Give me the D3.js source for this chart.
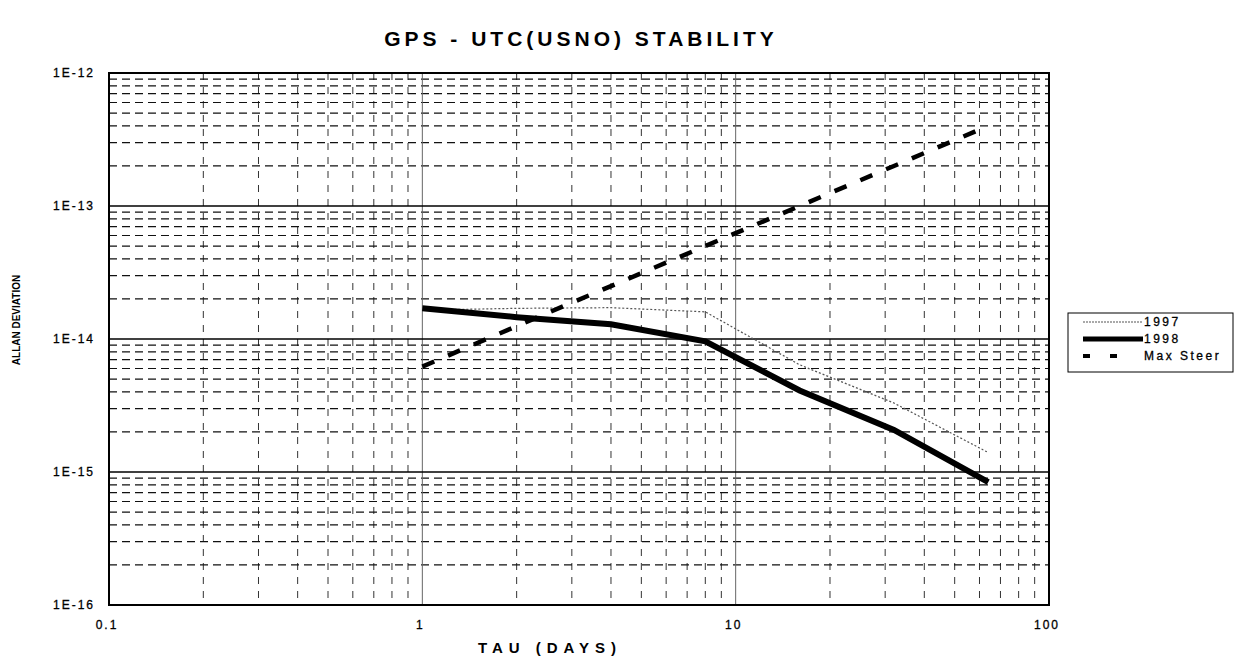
<!DOCTYPE html>
<html>
<head>
<meta charset="utf-8">
<title>GPS - UTC(USNO) Stability</title>
<script src="https://cdn.jsdelivr.net/npm/d3@7"></script>
<style>
    body { margin: 0; background: #fff; }
    text { font-family: "Liberation Sans", Arial, sans-serif; fill: #000; }
</style>
</head>
<body>
<div id="chart"></div>
<script>
// tau values (days) and allan deviation
let tauDays = [1, 2, 4, 8, 16, 32, 64];
let adev1997 = [1.65e-14, 1.7e-14, 1.72e-14, 1.6e-14, 6.4e-15, 3.3e-15, 1.4e-15];
let adev1998 = [1.7e-14, 1.46e-14, 1.29e-14, 9.6e-15, 4.1e-15, 2.07e-15, 8.4e-16];
let adevMaxSteer = [6.2e-15, 1.25e-14, 2.5e-14, 5e-14, 1e-13, 2e-13, 4e-13];

let xTicks = [0.1, 1, 10, 100];
let xTickLabels = ["0.1", "1", "10", "100"];
let yTicks = [1e-16, 1e-15, 1e-14, 1e-13, 1e-12];
let yTickLabels = ["1E-16", "1E-15", "1E-14", "1E-13", "1E-12"];

let seriesNames = ["1997", "1998", "Max Steer"];

class StabilityVis {

    constructor(parentElement) {
        this.parentElement = parentElement;
        this.initVis();
    }

    initVis() {
        let vis = this;

        vis.width = 1235;
        vis.height = 667;
        vis.plot = {left: 109, right: 1049, top: 73, bottom: 605};

        vis.svg = d3.select("#" + vis.parentElement)
            .append("svg")
            .attr("width", vis.width)
            .attr("height", vis.height);

        vis.x = d3.scaleLog().domain([0.1, 100]).range([vis.plot.left, vis.plot.right]);
        vis.y = d3.scaleLog().domain([1e-16, 1e-12]).range([vis.plot.bottom, vis.plot.top]);

        // title
        vis.svg.append("text")
            .attr("x", 581).attr("y", 46)
            .attr("text-anchor", "middle")
            .style("font-size", "21px")
            .style("font-weight", "bold")
            .style("letter-spacing", "4px")
            .text("GPS - UTC(USNO) STABILITY");

        vis.drawGrid();
        vis.drawAxes();
        vis.drawLines();
        vis.drawLegend();
    }

    drawGrid() {
        let vis = this;
        let g = vis.svg.append("g").attr("class", "grid");

        // minor ticks 2..9 in every decade
        let xMinor = vis.x.ticks().filter(d => !xTicks.includes(d));
        let yMinor = vis.y.ticks().filter(d => !yTicks.some(t => Math.abs(t - d) / t < 1e-6));

        g.selectAll(".vminor")
            .data(xMinor).enter()
            .append("line")
            .attr("x1", d => vis.x(d)).attr("x2", d => vis.x(d))
            .attr("y1", vis.plot.top).attr("y2", vis.plot.bottom)
            .attr("stroke", "#333")
            .attr("stroke-width", 1)
            .attr("stroke-dasharray", "7,7");

        g.selectAll(".hminor")
            .data(yMinor).enter()
            .append("line")
            .attr("x1", vis.plot.left).attr("x2", vis.plot.right)
            .attr("y1", d => vis.y(d)).attr("y2", d => vis.y(d))
            .attr("stroke", "#111")
            .attr("stroke-width", 1.2)
            .attr("stroke-dasharray", "8,5");

        // decade lines
        g.selectAll(".vmajor")
            .data(xTicks.slice(1, -1)).enter()
            .append("line")
            .attr("x1", d => vis.x(d)).attr("x2", d => vis.x(d))
            .attr("y1", vis.plot.top).attr("y2", vis.plot.bottom)
            .attr("stroke", "#666")
            .attr("stroke-width", 1);

        g.selectAll(".hmajor")
            .data(yTicks.slice(1, -1)).enter()
            .append("line")
            .attr("x1", vis.plot.left).attr("x2", vis.plot.right)
            .attr("y1", d => vis.y(d)).attr("y2", d => vis.y(d))
            .attr("stroke", "#000")
            .attr("stroke-width", 1.5);

        // frame
        g.append("rect")
            .attr("x", vis.plot.left).attr("y", vis.plot.top)
            .attr("width", vis.plot.right - vis.plot.left)
            .attr("height", vis.plot.bottom - vis.plot.top)
            .attr("fill", "none")
            .attr("stroke", "#000")
            .attr("stroke-width", 2);
    }

    drawAxes() {
        let vis = this;

        vis.svg.selectAll(".ylab")
            .data(yTicks).enter()
            .append("text")
            .attr("x", 95)
            .attr("y", d => vis.y(d) + 4)
            .attr("text-anchor", "end")
            .style("font-size", "12px")
            .style("letter-spacing", "2px")
            .style("stroke", "#000")
            .style("stroke-width", "0.3px")
            .text((d, i) => yTickLabels[i]);

        vis.svg.selectAll(".xlab")
            .data(xTicks).enter()
            .append("text")
            .attr("x", d => vis.x(d) - 2)
            .attr("y", 629)
            .attr("text-anchor", "middle")
            .style("font-size", "12px")
            .style("letter-spacing", "2px")
            .style("stroke", "#000")
            .style("stroke-width", "0.3px")
            .text((d, i) => xTickLabels[i]);

        vis.svg.append("text")
            .attr("x", 550).attr("y", 653)
            .attr("text-anchor", "middle")
            .style("font-size", "15px")
            .style("font-weight", "bold")
            .style("letter-spacing", "6px")
            .text("TAU (DAYS)");

        vis.svg.append("text")
            .attr("transform", "translate(20,320) rotate(-90)")
            .attr("text-anchor", "middle")
            .style("font-size", "10px")
            .style("font-weight", "bold")
            .text("ALLAN DEVIATION");
    }

    drawLines() {
        let vis = this;
        let line = d3.line()
            .x(d => vis.x(d[0]))
            .y(d => vis.y(d[1]));

        let pairs = (vals) => tauDays.map((t, i) => [t, vals[i]]);

        vis.svg.append("path")
            .attr("d", line(pairs(adev1997)))
            .attr("fill", "none")
            .attr("stroke", "#555")
            .attr("stroke-width", 1.2)
            .attr("stroke-dasharray", "2,2");

        vis.svg.append("path")
            .attr("d", line(pairs(adev1998)))
            .attr("fill", "none")
            .attr("stroke", "#000")
            .attr("stroke-width", 6);

        vis.svg.append("path")
            .attr("d", line(pairs(adevMaxSteer)))
            .attr("fill", "none")
            .attr("stroke", "#000")
            .attr("stroke-width", 4.5)
            .attr("stroke-dasharray", "13,15");
    }

    drawLegend() {
        let vis = this;
        let lg = vis.svg.append("g").attr("class", "legend");

        lg.append("rect")
            .attr("x", 1068).attr("y", 313)
            .attr("width", 165).attr("height", 59)
            .attr("fill", "#fff")
            .attr("stroke", "#000")
            .attr("stroke-width", 1);

        let styles = [
            {stroke: "#555", width: 1.2, dash: "2,1", x2: 1143},
            {stroke: "#000", width: 5, dash: null, x2: 1143},
            {stroke: "#000", width: 4, dash: "7,20", x2: 1117}
        ];

        seriesNames.forEach((name, i) => {
            let yy = 322 + i * 17;
            lg.append("line")
                .attr("x1", 1083).attr("x2", styles[i].x2)
                .attr("y1", yy).attr("y2", yy)
                .attr("stroke", styles[i].stroke)
                .attr("stroke-width", styles[i].width)
                .attr("stroke-dasharray", styles[i].dash);
            lg.append("text")
                .attr("x", 1144)
                .attr("y", yy + 4)
                .style("font-size", "12px")
                .style("letter-spacing", "2.5px")
                .style("stroke", "#000")
                .style("stroke-width", "0.3px")
                .text(name);
        });
    }
}

new StabilityVis("chart");
</script>
</body>
</html>
